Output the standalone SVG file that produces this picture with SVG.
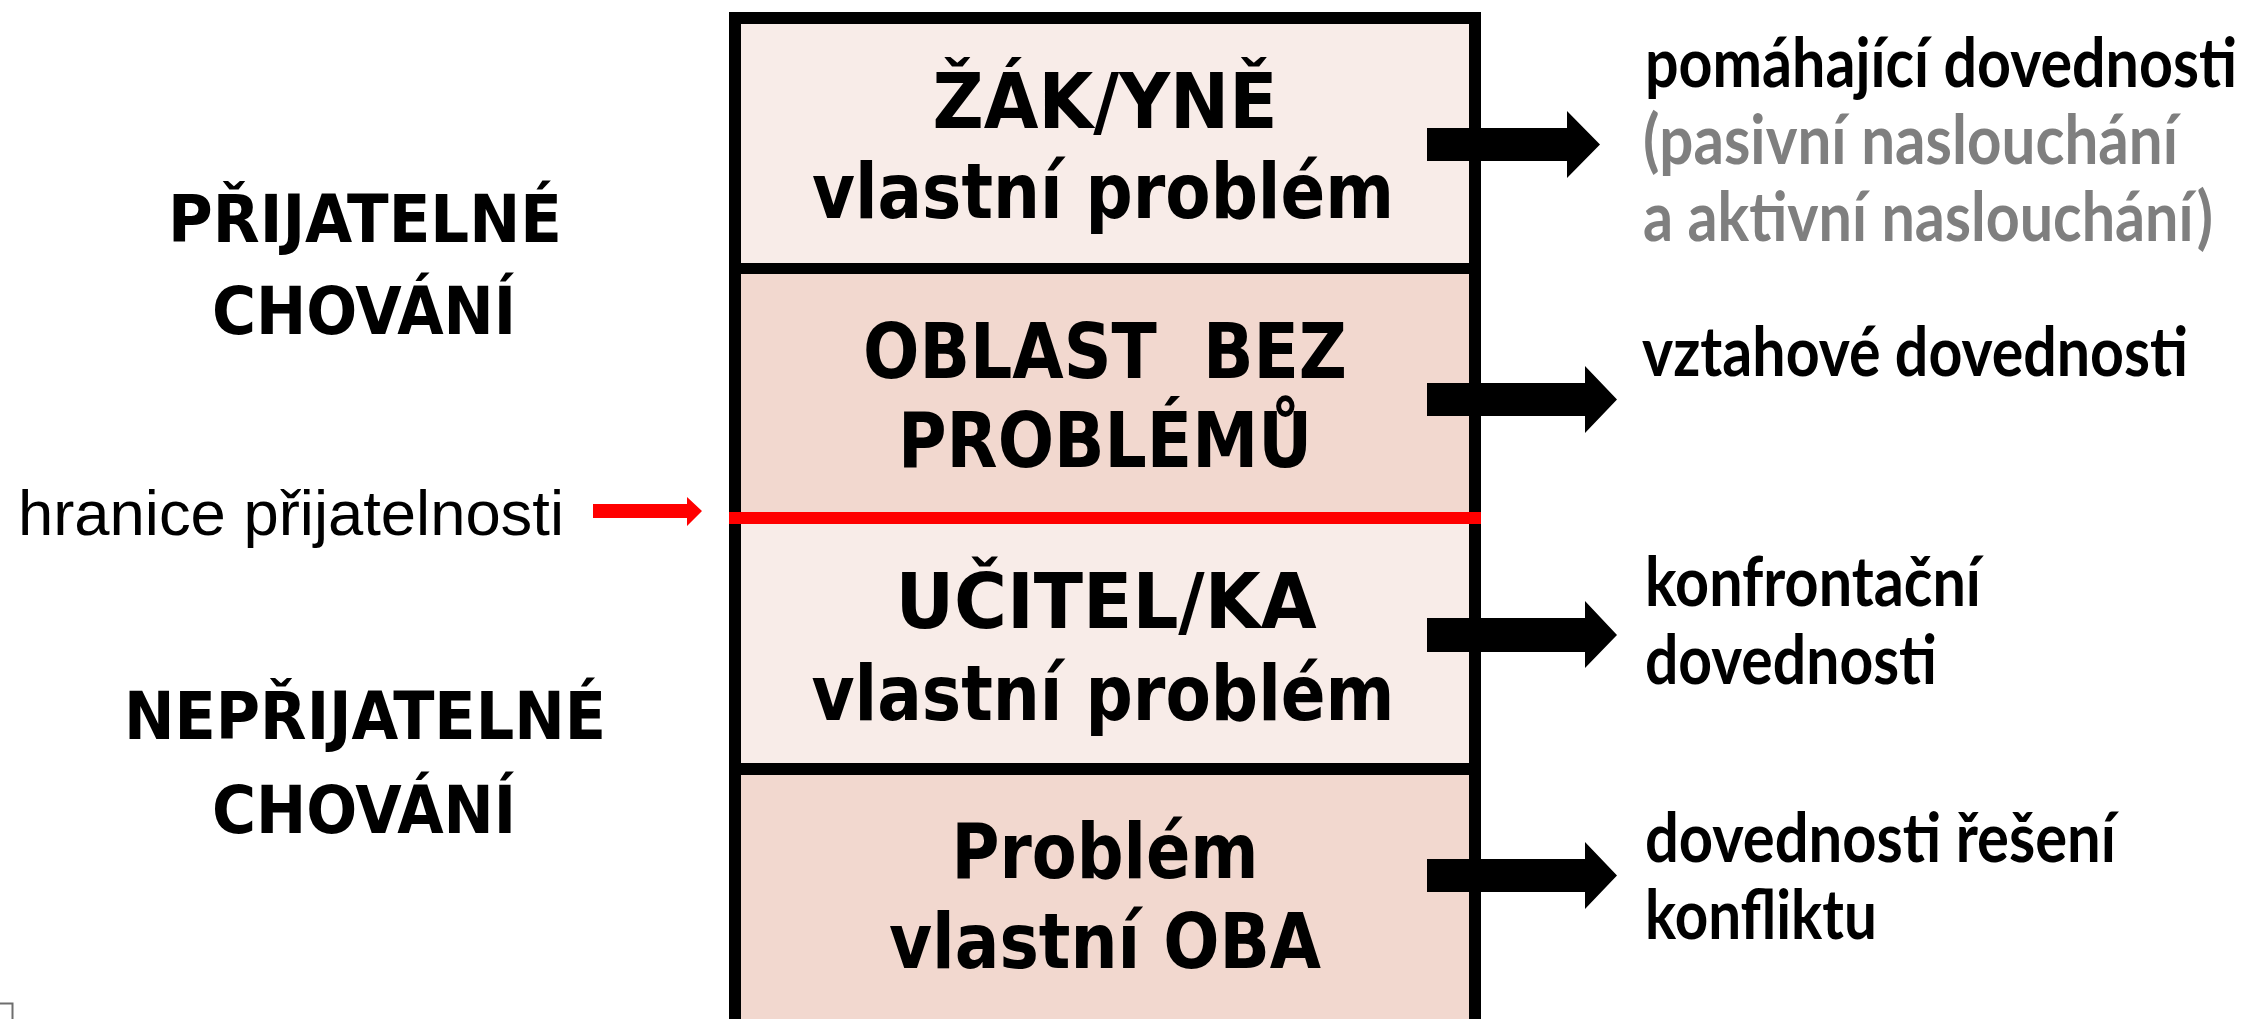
<svg xmlns="http://www.w3.org/2000/svg" width="2252" height="1019" viewBox="0 0 2252 1019">
  <style>
    .box { font-family: 'DejaVu Sans Condensed', 'DejaVu Sans', sans-serif; font-weight: bold; font-size: 76px; fill: #000; text-anchor: middle; }
    .side { font-family: 'DejaVu Sans Condensed', 'DejaVu Sans', sans-serif; font-weight: bold; font-size: 65px; fill: #000; text-anchor: middle; }
    .skill { font-family: Lato, 'Open Sans', sans-serif; font-weight: bold; font-size: 69px; fill: #000; }
    .gray { fill: #7F7F7F; }
    .plain { font-family: 'Liberation Sans', Arial, sans-serif; font-size: 63px; fill: #000; }
    .light { fill: #F8ECE8; }
    .dark { fill: #F2D8CF; }
    .arrow { fill: #000; }
  </style>

  <g id="stack">
    <rect class="light" x="741" y="24" width="728" height="239"/>
    <rect class="dark" x="741" y="274" width="728" height="238"/>
    <rect class="light" x="741" y="524" width="728" height="239"/>
    <rect class="dark" x="741" y="775" width="728" height="244"/>
    <rect x="735" y="18" width="740" height="1007" fill="none" stroke="#000" stroke-width="12"/>
    <line x1="735" y1="268.5" x2="1475" y2="268.5" stroke="#000" stroke-width="11"/>
    <line x1="735" y1="769" x2="1475" y2="769" stroke="#000" stroke-width="12"/>
  </g>

  <g id="node-zak">
    <text class="box" x="1105" y="128" textLength="345" lengthAdjust="spacingAndGlyphs">ŽÁK/YNĚ</text>
    <text class="box" x="1103" y="218" textLength="582" lengthAdjust="spacingAndGlyphs">vlastní problém</text>
  </g>
  <g id="node-bez">
    <text class="box" x="1105" y="378" textLength="484" lengthAdjust="spacingAndGlyphs" xml:space="preserve">OBLAST  BEZ</text>
    <text class="box" x="1105" y="467" textLength="414" lengthAdjust="spacingAndGlyphs">PROBLÉMŮ</text>
  </g>
  <g id="node-ucitel">
    <text class="box" x="1106" y="628" textLength="421" lengthAdjust="spacingAndGlyphs">UČITEL/KA</text>
    <text class="box" x="1103" y="720" textLength="583" lengthAdjust="spacingAndGlyphs">vlastní problém</text>
  </g>
  <g id="node-oba">
    <text class="box" x="1105" y="878" textLength="307" lengthAdjust="spacingAndGlyphs">Problém</text>
    <text class="box" x="1105" y="968" textLength="432" lengthAdjust="spacingAndGlyphs">vlastní OBA</text>
  </g>

  <g id="boundary">
    <rect x="729" y="512" width="752" height="12" fill="#FF0000"/>
  </g>

  <g id="label-prijatelne">
    <text class="side" x="365" y="242" textLength="394" lengthAdjust="spacingAndGlyphs">PŘIJATELNÉ</text>
    <text class="side" x="364" y="334" textLength="304" lengthAdjust="spacingAndGlyphs">CHOVÁNÍ</text>
  </g>
  <g id="label-hranice">
    <text class="plain" x="18" y="535" textLength="546" lengthAdjust="spacingAndGlyphs">hranice přijatelnosti</text>
  </g>
  <g id="label-neprijatelne">
    <text class="side" x="365" y="739" textLength="482" lengthAdjust="spacingAndGlyphs">NEPŘIJATELNÉ</text>
    <text class="side" x="364" y="833" textLength="304" lengthAdjust="spacingAndGlyphs">CHOVÁNÍ</text>
  </g>

  <g id="skill-pomahajici" transform="scale(0.84 1)">
    <text class="skill" x="1958.3" y="87" textLength="704.8" lengthAdjust="spacingAndGlyphs">pomáhající dovednosti</text>
    <text class="skill gray" x="1956" y="164" textLength="636.9" lengthAdjust="spacingAndGlyphs">(pasivní naslouchání</text>
    <text class="skill gray" x="1956" y="241" textLength="678.6" lengthAdjust="spacingAndGlyphs">a aktivní naslouchání)</text>
  </g>
  <g id="skill-vztahove" transform="scale(0.84 1)">
    <text class="skill" x="1954.8" y="376" textLength="650" lengthAdjust="spacingAndGlyphs">vztahové dovednosti</text>
  </g>
  <g id="skill-konfrontacni" transform="scale(0.84 1)">
    <text class="skill" x="1958.3" y="606" textLength="400" lengthAdjust="spacingAndGlyphs">konfrontační</text>
    <text class="skill" x="1958.3" y="684" textLength="347.6" lengthAdjust="spacingAndGlyphs">dovednosti</text>
  </g>
  <g id="skill-reseni" transform="scale(0.84 1)">
    <text class="skill" x="1958.3" y="862" textLength="560.7" lengthAdjust="spacingAndGlyphs">dovednosti řešení</text>
    <text class="skill" x="1958.3" y="939" textLength="276.2" lengthAdjust="spacingAndGlyphs">konfliktu</text>
  </g>

  <g id="connectors">
    <polygon class="arrow" points="1427,128 1567,128 1567,111 1600,144.5 1567,178 1567,161 1427,161"/>
    <polygon class="arrow" points="1427,383 1585,383 1585,366 1617,399.5 1585,433 1585,416 1427,416"/>
    <polygon class="arrow" points="1427,618 1585,618 1585,601 1617,635 1585,668 1585,652 1427,652"/>
    <polygon class="arrow" points="1427,859 1585,859 1585,842 1617,875.5 1585,909 1585,892 1427,892"/>
    <polygon fill="#FF0000" points="593,504 687,504 687,497 702,511 687,526 687,518 593,518"/>
  </g>

  <path d="M0 1003.5 H12.5 V1019" fill="none" stroke="#6E6E6E" stroke-width="2"/>
</svg>
